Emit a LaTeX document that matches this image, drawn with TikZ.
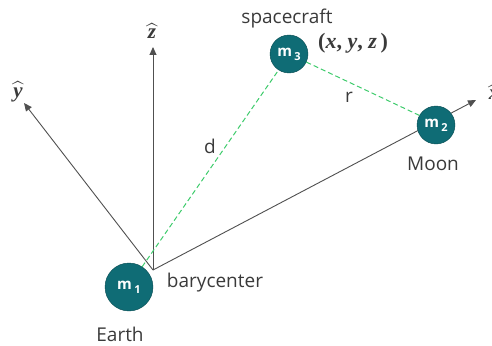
\documentclass[tikz,border=0pt]{standalone}
\usepackage{fontspec}
\usepackage{amsmath}
\setmainfont{Open Sans}
\newfontfamily\mlbl{Liberation Serif}
\usetikzlibrary{arrows.meta}
\definecolor{teal1}{HTML}{0F6C75}
\definecolor{axisgray}{HTML}{505050}
\definecolor{dgreen}{HTML}{3DCB6B}
\definecolor{txt}{HTML}{3A3A3A}
\newcommand{\mv}[1]{\text{\mlbl\bfseries\itshape #1}}
\begin{document}
\begin{tikzpicture}[x=1pt,y=-1pt,
  axis/.style={draw=axisgray,line width=0.9pt,-{Triangle[length=8pt,width=7pt]}},
  body/.style={circle,fill=teal1,draw=teal1!70!black,line width=0.4pt,minimum size=#1,inner sep=0pt,text=white,font=\bfseries\fontsize{15}{15}\selectfont},
  dist/.style={draw=dgreen,line width=1pt,dash pattern=on 5pt off 3pt},
  lbl/.style={text=txt,font=\fontsize{19}{19}\selectfont,inner sep=0pt},
  hatlbl/.style={text=txt,font=\fontsize{21}{21}\selectfont,inner sep=0pt}]
\useasboundingbox (0,0) rectangle (492,345);
\coordinate (O) at (153,270);
\coordinate (Z) at (153,47);
\coordinate (Y) at (24,103);
\coordinate (X) at (476,100);
\draw[axis] (O) -- (Z);
\draw[axis] (O) -- (Y);
\draw[axis] (O) -- (X);
\node[body=48pt] (m1) at (129,287) {m\,\raisebox{-4pt}{\fontsize{11}{11}\selectfont 1}};
\node[body=38pt] (m3) at (289,54) {m\,\raisebox{-4pt}{\fontsize{11}{11}\selectfont 3}};
\node[body=38pt] (m2) at (436,125) {m\,\raisebox{-4pt}{\fontsize{11}{11}\selectfont 2}};
\draw[dist] (m1.57) -- (m3.237);
\draw[dist] (m3.-25) -- (m2.150);
\node[hatlbl] (zl) at (152,31) {$\widehat{\mv{z}}$};
\node[hatlbl] (yl) at (18,92) {$\widehat{\mv{y}}$};
\node[hatlbl] (xl) at (494,92) {$\widehat{\mv{x}}$};
\node[lbl] (sc) at (287,19) {spacecraft};
\node[hatlbl,font=\fontsize{22}{22}\selectfont] (xyz) at (353,43) {\mlbl\bfseries(\textit{x}, \textit{y}, \textit{z}\,)};
\node[lbl] (r) at (349,97) {r};
\node[lbl] (d) at (210,146) {d};
\node[lbl] (moon) at (433,164) {Moon};
\node[lbl] (bary) at (215,283) {barycenter};
\node[lbl] (earth) at (120,334) {Earth};
\end{tikzpicture}
\end{document}
